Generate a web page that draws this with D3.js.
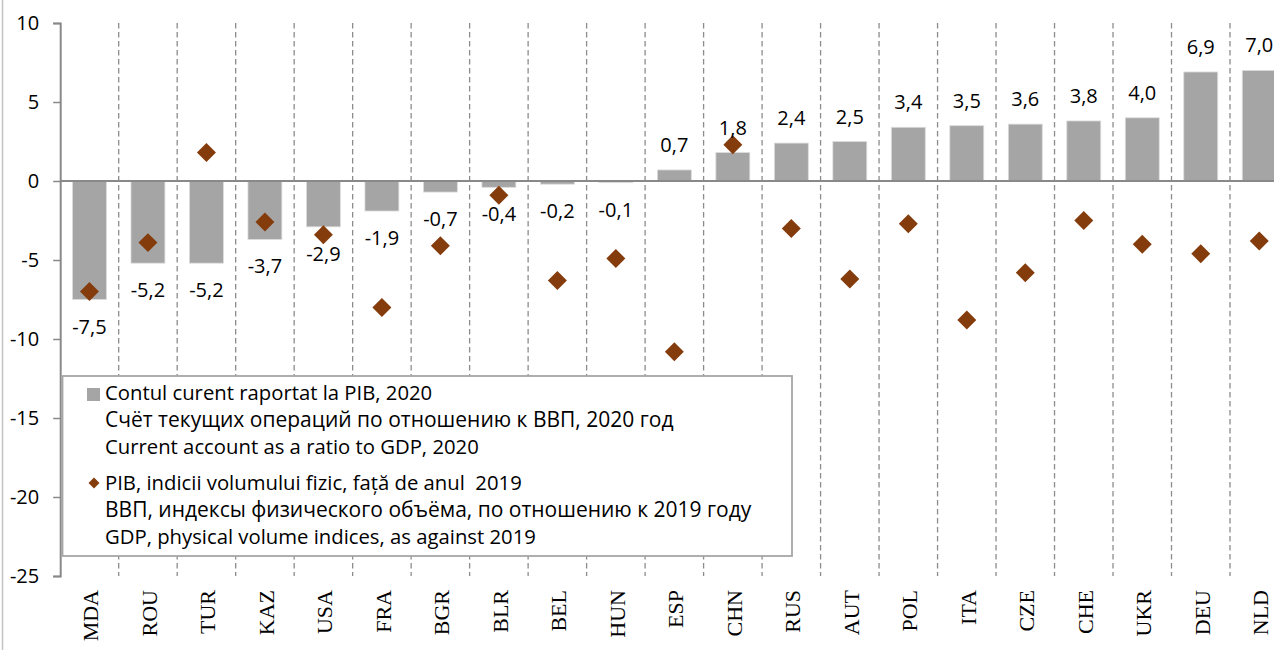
<!DOCTYPE html>
<html>
<head>
<meta charset="utf-8">
<script src="https://cdn.jsdelivr.net/npm/d3@7"></script>
<style>
  html, body { margin: 0; padding: 0; background: #fff; }
  svg { display: block; }
</style>
</head>
<body>
<svg id="chart" width="1274" height="653"></svg>
<script>
const categories = ["MDA","ROU","TUR","KAZ","USA","FRA","BGR","BLR","BEL","HUN","ESP","CHN","RUS","AUT","POL","ITA","CZE","CHE","UKR","DEU","NLD"];
const currentAccount = [-7.5,-5.2,-5.2,-3.7,-2.9,-1.9,-0.7,-0.4,-0.2,-0.1,0.7,1.8,2.4,2.5,3.4,3.5,3.6,3.8,4.0,6.9,7.0];
const gdpIndex = [-7.0,-3.9,1.8,-2.6,-3.4,-8.0,-4.1,-0.9,-6.3,-4.9,-10.8,2.3,-3.0,-6.2,-2.7,-8.8,-5.8,-2.5,-4.0,-4.6,-3.8];
const yTicks = [10,5,0,-5,-10,-15,-20,-25];
const legendBars = ["Contul curent raportat la PIB, 2020","Счёт текущих операций по отношению к ВВП, 2020 год","Current account as a ratio to GDP, 2020"];
const legendDiamonds = ["PIB, indicii volumului fizic, față de anul  2019","ВВП, индексы физического объёма, по отношению к 2019 году","GDP, physical volume indices, as against 2019"];

const svg = d3.select("#chart");
const sansFont = "'Open Sans', 'Noto Sans', sans-serif";
const serifFont = "'Liberation Serif', 'Times New Roman', serif";
const barColor = "#a5a5a5";
const dotColor = "#843c0c";
const axisColor = "#898989";

const left = 60.2, step = 58.49;
const x = d3.scaleBand().domain(categories).range([left, left + step * categories.length]).padding(0);
const y = d3.scaleLinear().domain([-25, 10]).range([576, 23]);
const barW = x.bandwidth() * 0.58;

// outer frame line
svg.append("line").attr("x1", 2.5).attr("x2", 2.5).attr("y1", 0).attr("y2", 650)
  .attr("stroke", "#c4c4c4").attr("stroke-width", 1.5);

// dashed category separators
svg.append("g").selectAll("line").data(categories.slice(1)).join("line")
  .attr("x1", d => x(d)).attr("x2", d => x(d))
  .attr("y1", y(10)).attr("y2", y(-25))
  .attr("stroke", "#8c8c8c").attr("stroke-width", 1.3).attr("stroke-dasharray", "5.5,3.5");

// bars
svg.append("g").selectAll("rect").data(categories).join("rect")
  .attr("x", d => x(d) + (x.bandwidth() - barW) / 2)
  .attr("width", barW)
  .attr("y", (d, i) => y(Math.max(0, currentAccount[i])))
  .attr("height", (d, i) => Math.abs(y(currentAccount[i]) - y(0)))
  .attr("fill", barColor).attr("stroke", "#dcdcdc").attr("stroke-width", 0.8);

// zero line
svg.append("line").attr("x1", left).attr("x2", 1274).attr("y1", y(0)).attr("y2", y(0))
  .attr("stroke", axisColor).attr("stroke-width", 2);

// y axis
const yAxis = d3.axisLeft(y).tickValues(yTicks).tickSize(7).tickPadding(14).tickFormat(d => String(d));
const yg = svg.append("g").attr("transform", `translate(${left},0)`).call(yAxis);
yg.select(".domain").attr("stroke", axisColor).attr("stroke-width", 2);
yg.selectAll(".tick line").attr("stroke", axisColor).attr("stroke-width", 1.5);
yg.selectAll(".tick text").attr("font-family", sansFont).attr("font-size", 20).attr("fill", "#000");

// diamonds
const diamond = d3.symbol().type(d3.symbolSquare).size(180);
svg.append("g").selectAll("path").data(categories).join("path")
  .attr("d", diamond)
  .attr("transform", (d, i) => `translate(${x(d) + x.bandwidth() / 2},${y(gdpIndex[i])}) rotate(45)`)
  .attr("fill", dotColor);

// value labels
const fmt = v => d3.format(".1f")(v).replace("−", "-").replace(".", ",");
svg.append("g").selectAll("text").data(categories).join("text")
  .attr("x", d => x(d) + x.bandwidth() / 2)
  .attr("y", (d, i) => currentAccount[i] < 0 ? y(currentAccount[i]) + 34 : y(currentAccount[i]) - 18)
  .attr("text-anchor", "middle")
  .attr("font-family", sansFont).attr("font-size", 20).attr("fill", "#000")
  .text((d, i) => fmt(currentAccount[i]));

// category labels
svg.append("g").selectAll("text").data(categories).join("text")
  .attr("transform", d => `translate(${x(d) + x.bandwidth() / 2 + 1},590) rotate(-90)`)
  .attr("text-anchor", "end").attr("dy", "0.36em")
  .attr("font-family", serifFont).attr("font-size", 22).attr("fill", "#000")
  .text(d => d);

// legend
const lg = svg.append("g");
lg.append("rect").attr("x", 62.5).attr("y", 376).attr("width", 729.5).attr("height", 180)
  .attr("fill", "#fff").attr("stroke", "#a6a6a6").attr("stroke-width", 1.8);
lg.append("rect").attr("x", 87).attr("y", 388).attr("width", 13).attr("height", 13).attr("fill", barColor);
lg.append("path").attr("d", d3.symbol().type(d3.symbolSquare).size(60))
  .attr("transform", "translate(94,483) rotate(45)").attr("fill", dotColor);
const lgBase1 = [400, 427, 454], lgBase2 = [490, 517, 544];
const lgSize = [20.3, 21, 20.3];
lg.selectAll("text.a").data(legendBars).join("text").attr("class", "a")
  .attr("x", 105).attr("y", (d, i) => lgBase1[i])
  .attr("font-family", sansFont).attr("font-size", (d, i) => lgSize[i]).attr("fill", "#000").text(d => d);
lg.selectAll("text.b").data(legendDiamonds).join("text").attr("class", "b")
  .attr("x", 105).attr("y", (d, i) => lgBase2[i])
  .attr("font-family", sansFont).attr("font-size", (d, i) => lgSize[i]).attr("fill", "#000")
  .attr("xml:space", "preserve").style("white-space", "pre").text(d => d);
</script>
</body>
</html>
